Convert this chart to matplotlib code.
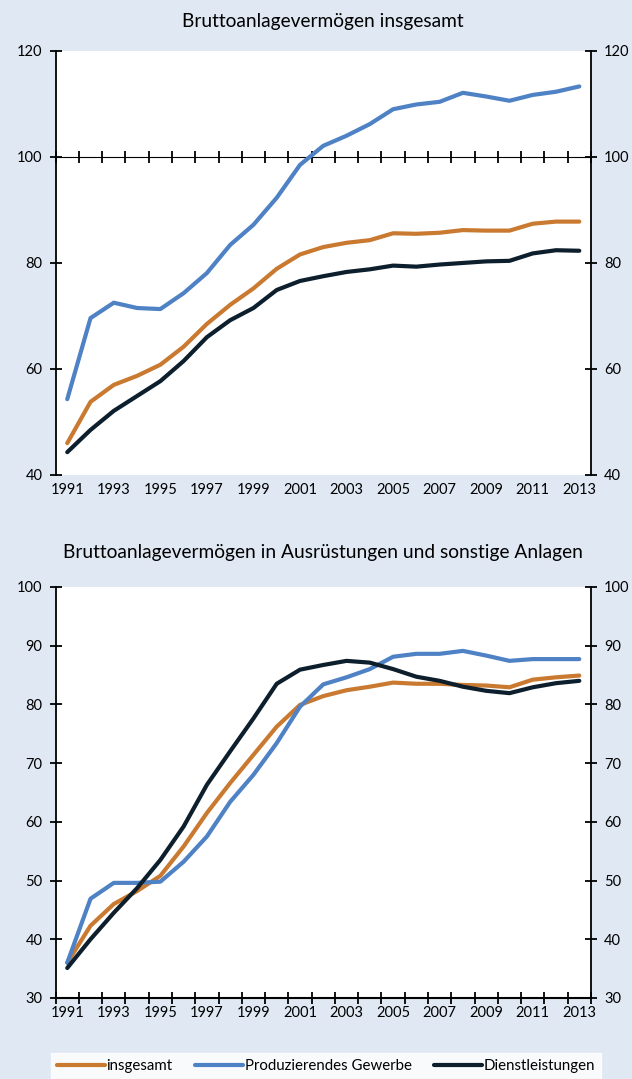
import numpy as np
import matplotlib.pyplot as plt
from matplotlib.ticker import FixedLocator

# Daten, 1991..2013
jahre = list(range(1991, 2014))

# Bruttoanlagevermögen insgesamt
top_insgesamt = [46.0, 53.8, 57.0, 58.7, 60.8, 64.2, 68.5, 72.1, 75.2, 78.9, 81.6, 83.0,
                 83.8, 84.3, 85.6, 85.5, 85.7, 86.2, 86.1, 86.1, 87.4, 87.8, 87.8]
top_produzierend = [54.3, 69.6, 72.5, 71.5, 71.3, 74.3, 78.1, 83.4, 87.2, 92.3, 98.5, 102.1,
                    104.0, 106.2, 109.0, 109.9, 110.4, 112.1, 111.4, 110.6, 111.7, 112.3, 113.3]
top_dienst = [44.3, 48.5, 52.1, 54.9, 57.7, 61.5, 66.0, 69.2, 71.5, 74.9, 76.6, 77.5,
              78.3, 78.8, 79.5, 79.3, 79.7, 80.0, 80.3, 80.4, 81.8, 82.4, 82.3]

# Bruttoanlagevermögen in Ausrüstungen und sonstige Anlagen
bot_insgesamt = [36.0, 42.3, 46.0, 48.2, 50.8, 55.8, 61.5, 66.6, 71.4, 76.2, 79.9, 81.4,
                 82.4, 83.0, 83.7, 83.5, 83.5, 83.3, 83.2, 82.9, 84.2, 84.6, 84.9]
bot_produzierend = [36.0, 46.9, 49.6, 49.6, 49.8, 53.2, 57.5, 63.4, 68.0, 73.4, 79.6, 83.4,
                    84.6, 86.0, 88.1, 88.6, 88.6, 89.1, 88.3, 87.4, 87.7, 87.7, 87.7]
bot_dienst = [35.1, 40.0, 44.5, 48.7, 53.5, 59.2, 66.3, 72.0, 77.6, 83.5, 85.9, 86.7,
              87.4, 87.1, 86.0, 84.7, 84.0, 83.0, 82.3, 81.9, 82.9, 83.6, 84.0]

labels = ["insgesamt", "Produzierendes Gewerbe", "Dienstleistungen"]
farben = ["#c97a30", "#4f81c5", "#0d1e2c"]

plt.rcParams['font.family'] = ['Lato', 'DejaVu Sans']
bg = "#dfe8f3"

fig = plt.figure(figsize=(6.32, 10.79), dpi=100, facecolor=bg)
ax1 = fig.add_axes([0.088, 0.5598, 0.847, 0.393])
ax2 = fig.add_axes([0.088, 0.0751, 0.847, 0.381])

major = [j for j in jahre if j % 2 == 1]
minor = [j - 0.5 for j in jahre] + [jahre[-1] + 0.5]

def style(ax, ylim, step, title, tpad):
    ax.set_facecolor("white")
    ax.set_xlim(1990.5, 2013.5)
    ax.set_ylim(*ylim)
    ax.set_yticks(np.arange(ylim[0], ylim[1] + 1, step))
    ax.set_xticks(major)
    ax.xaxis.set_minor_locator(FixedLocator(minor))
    ax.spines['top'].set_visible(False)
    for s in ['left', 'right']:
        ax.spines[s].set_linewidth(1.3)
        ax.spines[s].set_color("black")
    ax.tick_params(axis='y', left=True, right=True, labelleft=True, labelright=True,
                   direction='inout', length=9, width=1.3, labelsize=10.5, pad=5)
    ax.tick_params(axis='x', which='major', length=0, labelsize=10.5, pad=6)
    ax.set_title(title, fontsize=13.8, pad=tpad)

style(ax1, (40, 120), 20, "Bruttoanlagevermögen insgesamt", 17)
style(ax2, (30, 100), 10, "Bruttoanlagevermögen in Ausrüstungen und sonstige Anlagen", 21)

# oben: Achse bei 100
ax1.spines['bottom'].set_visible(False)
ax1.tick_params(axis='x', which='minor', length=0)
sec = ax1.secondary_xaxis((100 - 40) / 80)
sec.set_xticks(minor)
sec.tick_params(axis='x', direction='inout', length=9, width=1.3, labelbottom=False)
sec.spines['bottom'].set_linewidth(1.5)
sec.set_xticklabels([])

# unten: Achse bei 30
ax2.spines['bottom'].set_linewidth(1.5)
ax2.tick_params(axis='x', which='minor', direction='inout', length=9, width=1.3)

for ax, reihen in [(ax1, [top_insgesamt, top_produzierend, top_dienst]),
                   (ax2, [bot_insgesamt, bot_produzierend, bot_dienst])]:
    for werte, lab, c in zip(reihen, labels, farben):
        ax.plot(jahre, werte, color=c, lw=3, label=lab, solid_capstyle='round', clip_on=False, zorder=3)

leg = fig.legend(*ax2.get_legend_handles_labels(), loc='lower left',
                 bbox_to_anchor=(51 / 632, 0.0, 550 / 632, 28 / 1079), mode='expand',
                 ncol=3, frameon=True, fancybox=False, edgecolor='white',
                 fontsize=10.8, handlelength=3.2, handletextpad=0.1, borderaxespad=0,
                 borderpad=0.4)
leg.get_frame().set_facecolor('white')

fig.savefig("out.png", dpi=100, facecolor=bg)
